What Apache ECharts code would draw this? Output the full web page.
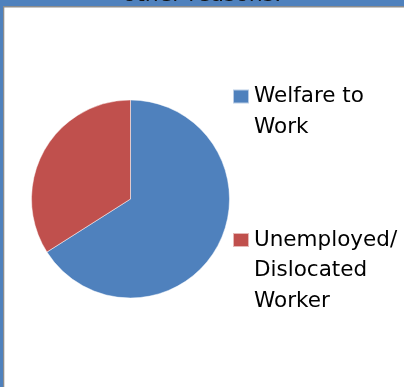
<!DOCTYPE html>
<html>
<head>
<meta charset="utf-8">
<script src="https://cdn.jsdelivr.net/npm/echarts@6/dist/echarts.min.js"></script>
<style>
html,body{margin:0;padding:0;background:#fff;}
#chart{width:404px;height:387px;}
</style>
</head>
<body>
<div id="chart"></div>
<script>
const titleText = 'other reasons.';
const categories = ['Welfare to Work', 'Unemployed/ Dislocated Worker'];
const legendLabels = ['Welfare to\nWork', 'Unemployed/\nDislocated\nWorker'];
const values = [66, 34];
const colors = ['#4f81bd', '#c0504d'];

const FONT = 'DejaVu Sans';
const LH = 30.5;

const chart = echarts.init(document.getElementById('chart'), null, {renderer: 'canvas'});

function legendFor(i, iconCenter) {
  const lines = legendLabels[i].split('\n');
  // prepend blank lines so that the first text line sits level with the icon
  const padded = new Array(lines.length - 1).fill(' ').concat(lines).join('\n');
  const total = (lines.length * 2 - 1) * LH;
  return {
    orient: 'vertical',
    left: 232,
    top: iconCenter - total / 2,
    padding: 0,
    itemWidth: 16,
    itemHeight: 14,
    icon: 'rect',
    selectedMode: false,
    data: [categories[i]],
    formatter: function () { return padded; },
    textStyle: {fontFamily: FONT, fontSize: 21.5, color: '#000', lineHeight: LH}
  };
}

chart.setOption({
  animation: false,
  backgroundColor: '#fff',
  color: colors,
  title: {
    text: titleText,
    left: 'center',
    top: -16,
    padding: 0,
    textStyle: {fontFamily: FONT, fontSize: 22, fontWeight: 'normal', color: '#111'}
  },
  graphic: [
    {type: 'rect', z: -1, shape: {x: 0, y: 0, width: 404, height: 7}, style: {fill: '#4f81bd'}, silent: true},
    {type: 'rect', z: -1, shape: {x: 0, y: 0, width: 3, height: 387}, style: {fill: '#4f81bd'}, silent: true},
    {type: 'rect', z: -1, shape: {x: 3, y: 6, width: 401, height: 1.5}, style: {fill: '#8c8c8c'}, silent: true},
    {type: 'rect', z: -1, shape: {x: 3, y: 6, width: 1.3, height: 381}, style: {fill: '#8c8c8c'}, silent: true}
  ],
  legend: [legendFor(0, 96.5), legendFor(1, 240)],
  series: [{
    type: 'pie',
    center: [130.5, 199],
    radius: 99,
    startAngle: 90,
    clockwise: true,
    label: {show: false},
    labelLine: {show: false},
    emphasis: {disabled: true},
    itemStyle: {borderColor: 'rgba(255,255,255,0.6)', borderWidth: 0.8},
    data: categories.map((c, i) => ({name: c, value: values[i]}))
  }]
});
</script>
</body>
</html>
